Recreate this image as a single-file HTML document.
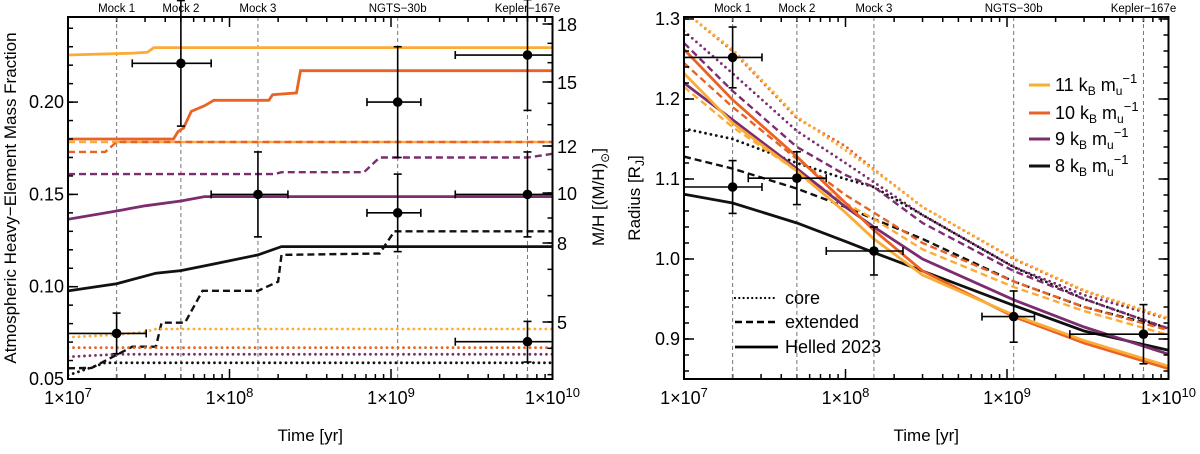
<!DOCTYPE html>
<html><head><meta charset="utf-8"><style>
html,body{margin:0;padding:0;background:#fff;}
svg{display:block;font-family:"Liberation Sans Narrow","Liberation Sans",sans-serif;}
</style></head><body>
<svg id="fig" width="1200" height="454" viewBox="0 0 1200 454" xmlns="http://www.w3.org/2000/svg">
<defs>
<clipPath id="clipL"><rect x="68" y="17" width="484.5" height="362"/></clipPath>
<clipPath id="clipR"><rect x="684" y="17" width="484.5" height="362"/></clipPath>
</defs>
</svg>
<script>
// ---------- data ----------
const markers = [2e7, 5e7, 1.5e8, 1.1e9, 7e9];
const markerNames = ["Mock 1", "Mock 2", "Mock 3", "NGTS\u221230b", "Kepler\u2212167e"];
const xTickExps = [7, 8, 9, 10];
const leftYTicks = [0.05, 0.10, 0.15, 0.20];
const leftYTickLabels = ["0.05", "0.10", "0.15", "0.20"];
const mhTicks = [5, 8, 10, 12, 15, 18];
const mhTickY = [322, 243, 193, 146, 82, 24];
const rightYTicks = [0.9, 1.0, 1.1, 1.2, 1.3];
const rightYTickLabels = ["0.9", "1.0", "1.1", "1.2", "1.3"];

// left panel series (time, value)
const Ly11SolidT = [1e7, 2.5e7, 3.1e7, 3.4e7, 1e10];
const Ly11SolidV = [0.2255, 0.2265, 0.227, 0.2295, 0.2295];
const Ly11DashT = [1e7, 1e10];
const Ly11DashV = [0.1784, 0.1784];
const Ly11DotT = [1e7, 2e7, 3e7, 3.5e7, 1e10];
const Ly11DotV = [0.0726, 0.074, 0.0755, 0.0771, 0.0771];
const Lr10SolidT = [1e7, 4.5e7, 4.8e7, 5.2e7, 5.8e7, 7e7, 8e7, 1.75e8, 1.85e8, 2.6e8, 2.75e8, 1e10];
const Lr10SolidV = [0.180, 0.180, 0.184, 0.186, 0.195, 0.198, 0.201, 0.201, 0.204, 0.205, 0.217, 0.217];
const Lr10DashT = [1e7, 1.7e7, 2e7, 1e10];
const Lr10DashV = [0.173, 0.173, 0.1784, 0.1784];
const Lr10DotT = [1e7, 1e10];
const Lr10DotV = [0.067, 0.067];
const Lp9SolidT = [1e7, 2e7, 3e7, 5e7, 7e7, 1e10];
const Lp9SolidV = [0.1365, 0.141, 0.1438, 0.1464, 0.1488, 0.1488];
const Lp9DashT = [1e7, 1.9e8, 2.1e8, 6.8e8, 8.5e8, 7e9, 1e10];
const Lp9DashV = [0.161, 0.161, 0.162, 0.162, 0.170, 0.170, 0.172];
const Lp9DotT = [1e7, 2e7, 1e10];
const Lp9DotV = [0.062, 0.0634, 0.0634];
const Lk8SolidT = [1e7, 2e7, 3.5e7, 5e7, 8e7, 1.5e8, 2.1e8, 1e10];
const Lk8SolidV = [0.0977, 0.1016, 0.1073, 0.1087, 0.1123, 0.1172, 0.1217, 0.1217];
const Lk8DashT = [1e7, 1.4e7, 2.5e7, 3.5e7, 3.8e7, 5.3e7, 6.8e7, 1.5e8, 2e8, 2.1e8, 8.5e8, 1.05e9, 1e10];
const Lk8DashV = [0.0558, 0.056, 0.0675, 0.0675, 0.0805, 0.0805, 0.0978, 0.0978, 0.1027, 0.1172, 0.118, 0.130, 0.130];
const Lk8DotT = [1e7, 1.7e7, 1e10];
const Lk8DotV = [0.052, 0.0588, 0.0588];

// left panel observations
const LobsT = [5e7, 2e7, 1.5e8, 1.1e9, 1.1e9, 7e9, 7e9, 7e9];
const LobsV = [0.221, 0.0747, 0.150, 0.200, 0.140, 0.2255, 0.150, 0.0702];
const LobsErr = [0.034, 0.011, 0.023, 0.030, 0.021, 0.030, 0.023, 0.011];
const LobsXlo = [2.5e7, 1e7, 7.7e7, 7.1e8, 7.1e8, 2.5e9, 2.5e9, 2.5e9];
const LobsXhi = [7.7e7, 3.05e7, 2.3e8, 1.53e9, 1.53e9, 1e10, 1e10, 1e10];

// right panel series, common time grid
const RT = [1e7, 2e7, 5e7, 1e8, 1.5e8, 3e8, 1.1e9, 3e9, 1e10];
const Ry11Dot = [1.31, 1.262, 1.178, 1.136, 1.111, 1.065, 1.001, 0.961, 0.926];
const Rr10Dot = [1.31, 1.26, 1.176, 1.141, 1.112, 1.065, 1.0, 0.96, 0.925];
const Rp9Dot = [1.285, 1.232, 1.16, 1.12, 1.096, 1.055, 0.99, 0.955, 0.925];
const Rk8Dot = [1.163, 1.15, 1.12, 1.10, 1.09, 1.055, 0.99, 0.95, 0.913];
const Rp9Dash = [1.27, 1.21, 1.14, 1.105, 1.09, 1.045, 0.985, 0.95, 0.913];
const Rr10Dash = [1.245, 1.19, 1.125, 1.08, 1.058, 1.02, 0.972, 0.94, 0.911];
const Ry11Dash = [1.215, 1.165, 1.11, 1.07, 1.05, 1.012, 0.965, 0.935, 0.905];
const Rk8Dash = [1.128, 1.113, 1.088, 1.065, 1.05, 1.025, 0.972, 0.94, 0.913];
const Rr10Solid = [1.262, 1.199, 1.128, 1.07, 1.036, 0.985, 0.928, 0.895, 0.863];
const Ry11Solid = [1.232, 1.17, 1.11, 1.058, 1.025, 0.98, 0.93, 0.898, 0.866];
const Rp9Solid = [1.22, 1.174, 1.113, 1.065, 1.04, 1.0, 0.949, 0.915, 0.881];
const Rk8Solid = [1.081, 1.07, 1.045, 1.022, 1.008, 0.985, 0.942, 0.91, 0.886];

// right panel observations
const RobsT = [2e7, 2e7, 5e7, 1.5e8, 1.1e9, 7e9];
const RobsV = [1.252, 1.090, 1.101, 1.010, 0.928, 0.906];
const RobsErr = [0.038, 0.033, 0.033, 0.030, 0.032, 0.037];
const RobsXlo = [1e7, 1e7, 2.5e7, 7.6e7, 7e8, 2.45e9];
const RobsXhi = [3.04e7, 3.04e7, 7.6e7, 2.27e8, 1.48e9, 1e10];

const legendLabels = ["11", "10", "9", "8"];
const styleLabels = ["core", "extended", "Helled 2023"];

// ---------- drawing ----------
const NS = "http://www.w3.org/2000/svg";
const svg = document.getElementById("fig");
const C = {y: "#fbac35", r: "#ea6224", p: "#7c2d70", k: "#111111"};
function mk(tag, attrs, parent) {
  const e = document.createElementNS(NS, tag);
  for (const k in attrs) e.setAttribute(k, attrs[k]);
  (parent || svg).appendChild(e);
  return e;
}
const xL = t => 68 + (Math.log10(t) - 7) * 161.5;
const xR = t => 684 + (Math.log10(t) - 7) * 161.5;
const yL = v => 379 - (v - 0.05) / 0.05 * 92.3;
const yR = v => 339 - (v - 0.9) * 800;

function styleAttrs(st, col) {
  if (st === "solid") return {stroke: col, "stroke-width": 2.8, fill: "none"};
  if (st === "dash") return {stroke: col, "stroke-width": 2.4, fill: "none", "stroke-dasharray": "7,4"};
  return {stroke: col, "stroke-width": 2.8, fill: "none", "stroke-dasharray": "0,5.5", "stroke-linecap": "round"};
}
function series(g, xf, yf, ts, vs, st, col, name) {
  const pts = ts.map((t, i) => xf(t).toFixed(1) + "," + yf(vs[i]).toFixed(1)).join(" ");
  const a = styleAttrs(st, col); a.points = pts;
  const e = mk("polyline", a, g);
  
  
}
function obs(g, xf, yf, T, V, E, XL, XH, name) {
  T.forEach((t, i) => {
    const og = mk("g", {}, g);
    
    
    const x = xf(t), y = yf(V[i]);
    mk("line", {x1: x, x2: x, y1: yf(V[i] + E[i]), y2: yf(V[i] - E[i]), stroke: "#000", "stroke-width": 1.6}, og);
    mk("line", {x1: x - 4, x2: x + 4, y1: yf(V[i] + E[i]), y2: yf(V[i] + E[i]), stroke: "#000", "stroke-width": 1.6}, og);
    mk("line", {x1: x - 4, x2: x + 4, y1: yf(V[i] - E[i]), y2: yf(V[i] - E[i]), stroke: "#000", "stroke-width": 1.6}, og);
    mk("line", {x1: xf(XL[i]), x2: xf(XH[i]), y1: y, y2: y, stroke: "#000", "stroke-width": 1.6}, og);
    mk("line", {x1: xf(XL[i]), x2: xf(XL[i]), y1: y - 4, y2: y + 4, stroke: "#000", "stroke-width": 1.6}, og);
    mk("line", {x1: xf(XH[i]), x2: xf(XH[i]), y1: y - 4, y2: y + 4, stroke: "#000", "stroke-width": 1.6}, og);
    mk("circle", {cx: x, cy: y, r: 4.8, fill: "#000"}, og);
  });
}
function text(str, attrs, parent, name) {
  const e = mk("text", attrs, parent);
  e.textContent = str;
  
  
  return e;
}
function xAxis(xf, x0, x1, g, prefix) {
  for (let d = 7; d < 10; d++) for (let m = 2; m <= 9; m++) {
    const x = xf(m * Math.pow(10, d));
    mk("line", {x1: x, x2: x, y1: 379, y2: 374, stroke: "#000", "stroke-width": 1.5}, g);
    mk("line", {x1: x, x2: x, y1: 17, y2: 22, stroke: "#000", "stroke-width": 1.5}, g);
  }
  xTickExps.forEach(e => {
    const x = xf(Math.pow(10, e));
    mk("line", {x1: x, x2: x, y1: 379, y2: 369, stroke: "#000", "stroke-width": 1.5}, g);
    mk("line", {x1: x, x2: x, y1: 17, y2: 27, stroke: "#000", "stroke-width": 1.5}, g);
    const t = mk("text", {x: x, y: 404, "font-size": 18, "text-anchor": "middle"}, g);
    
    
    const a = document.createElementNS(NS, "tspan"); a.textContent = "1\u00d710"; t.appendChild(a);
    const b = document.createElementNS(NS, "tspan"); b.setAttribute("dy", "-7"); b.setAttribute("font-size", "13"); b.textContent = String(e); t.appendChild(b);
  });
  markers.forEach((m, i) => {
    const x = xf(m);
    mk("line", {x1: x, x2: x, y1: 17, y2: 379, stroke: "#777", "stroke-width": 1, "stroke-dasharray": "4,3"}, g);
    text(markerNames[i], {x: x, y: 12, "font-size": 11.5, "text-anchor": "middle"}, g, prefix + "-marker-label");
  });
  text("Time [yr]", {x: (x0 + x1) / 2, y: 441, "font-size": 17, "text-anchor": "middle"}, g, prefix + "-x-axis-title");
}

// ===== left panel =====
const gL = mk("g", {});  
xAxis(xL, 68, 552.5, gL, "left");
const gLs = mk("g", {"clip-path": "url(#clipL)"}, gL);
 
series(gLs, xL, yL, Ly11DashT, Ly11DashV, "dash", C.y, "line-11-extended");
series(gLs, xL, yL, Lr10DashT, Lr10DashV, "dash", C.r, "line-10-extended");
series(gLs, xL, yL, Ly11SolidT, Ly11SolidV, "solid", C.y, "line-11-helled");
series(gLs, xL, yL, Lr10SolidT, Lr10SolidV, "solid", C.r, "line-10-helled");
series(gLs, xL, yL, Lp9DashT, Lp9DashV, "dash", C.p, "line-9-extended");
series(gLs, xL, yL, Lp9SolidT, Lp9SolidV, "solid", C.p, "line-9-helled");
series(gLs, xL, yL, Lk8SolidT, Lk8SolidV, "solid", C.k, "line-8-helled");
series(gLs, xL, yL, Lk8DashT, Lk8DashV, "dash", C.k, "line-8-extended");
series(gLs, xL, yL, Ly11DotT, Ly11DotV, "dot", C.y, "line-11-core");
series(gLs, xL, yL, Lr10DotT, Lr10DotV, "dot", C.r, "line-10-core");
series(gLs, xL, yL, Lp9DotT, Lp9DotV, "dot", C.p, "line-9-core");
series(gLs, xL, yL, Lk8DotT, Lk8DotV, "dot", C.k, "line-8-core");
obs(gL, xL, yL, LobsT, LobsV, LobsErr, LobsXlo, LobsXhi, "left-observation");
for (let v = 0.05; v < 0.246; v += 0.01) {
  const y = yL(v);
  mk("line", {x1: 68, x2: 73, y1: y, y2: y, stroke: "#000", "stroke-width": 1.5}, gL);
}
leftYTicks.forEach((v, i) => {
  const y = yL(v);
  mk("line", {x1: 68, x2: 78, y1: y, y2: y, stroke: "#000", "stroke-width": 1.5}, gL);
  text(leftYTickLabels[i], {x: 64, y: y + 6, "font-size": 18, "text-anchor": "end"}, gL, "left-y-tick-label");
});
// M/H right axis
function mhY(m) {
  for (let i = 0; i < mhTicks.length - 1; i++) {
    if (m >= mhTicks[i] && m <= mhTicks[i + 1]) {
      const f = (m - mhTicks[i]) / (mhTicks[i + 1] - mhTicks[i]);
      return mhTickY[i] + f * (mhTickY[i + 1] - mhTickY[i]);
    }
  }
  return mhTickY[0] + (m - 5) * (mhTickY[1] - mhTickY[0]) / 3;
}
for (let m = 3; m <= 18; m++) {
  const y = mhY(m); if (y > 379) continue;
  mk("line", {x1: 552.5, x2: 547.5, y1: y, y2: y, stroke: "#000", "stroke-width": 1.5}, gL);
}
mhTicks.forEach((m, i) => {
  const y = mhTickY[i];
  mk("line", {x1: 552.5, x2: 542.5, y1: y, y2: y, stroke: "#000", "stroke-width": 1.5}, gL);
  text(String(m), {x: 557, y: y + 7, "font-size": 18}, gL, "mh-tick-label");
});
mk("rect", {x: 68, y: 17, width: 484.5, height: 362, fill: "none", stroke: "#000", "stroke-width": 2}, gL);
text("Atmospheric Heavy\u2212Element Mass Fraction", {x: 0, y: 0, "font-size": 17, "text-anchor": "middle", transform: "translate(16,198) rotate(-90)"}, gL, "left-y-axis-title");
const mh = mk("text", {x: 0, y: 0, "font-size": 17, "text-anchor": "middle", transform: "translate(604,197) rotate(-90)"}, gL);
 
mh.innerHTML = '<tspan>M/H [(M/H)</tspan><tspan dy="5" font-size="12">\u2299</tspan><tspan dy="-5">]</tspan>';

// ===== right panel =====
const gR = mk("g", {});  
xAxis(xR, 684, 1168.5, gR, "right");
const gRs = mk("g", {"clip-path": "url(#clipR)"}, gR);
 
series(gRs, xR, yR, RT, Rk8Dot, "dot", C.k, "radius-8-core");
series(gRs, xR, yR, RT, Rp9Dot, "dot", C.p, "radius-9-core");
series(gRs, xR, yR, RT, Rr10Dot, "dot", C.r, "radius-10-core");
series(gRs, xR, yR, RT, Ry11Dot, "dot", C.y, "radius-11-core");
series(gRs, xR, yR, RT, Rk8Dash, "dash", C.k, "radius-8-extended");
series(gRs, xR, yR, RT, Rp9Dash, "dash", C.p, "radius-9-extended");
series(gRs, xR, yR, RT, Rr10Dash, "dash", C.r, "radius-10-extended");
series(gRs, xR, yR, RT, Ry11Dash, "dash", C.y, "radius-11-extended");
series(gRs, xR, yR, RT, Rk8Solid, "solid", C.k, "radius-8-helled");
series(gRs, xR, yR, RT, Rp9Solid, "solid", C.p, "radius-9-helled");
series(gRs, xR, yR, RT, Rr10Solid, "solid", C.r, "radius-10-helled");
series(gRs, xR, yR, RT, Ry11Solid, "solid", C.y, "radius-11-helled");
obs(gR, xR, yR, RobsT, RobsV, RobsErr, RobsXlo, RobsXhi, "right-observation");
for (let v = 0.86; v < 1.305; v += 0.02) {
  const y = yR(v);
  mk("line", {x1: 684, x2: 689, y1: y, y2: y, stroke: "#000", "stroke-width": 1.5}, gR);
  mk("line", {x1: 1168.5, x2: 1163.5, y1: y, y2: y, stroke: "#000", "stroke-width": 1.5}, gR);
}
rightYTicks.forEach((v, i) => {
  const y = yR(v);
  mk("line", {x1: 684, x2: 694, y1: y, y2: y, stroke: "#000", "stroke-width": 1.5}, gR);
  mk("line", {x1: 1168.5, x2: 1158.5, y1: y, y2: y, stroke: "#000", "stroke-width": 1.5}, gR);
  text(rightYTickLabels[i], {x: 680, y: y + 6, "font-size": 18, "text-anchor": "end"}, gR, "right-y-tick-label");
});
mk("rect", {x: 684, y: 17, width: 484.5, height: 362, fill: "none", stroke: "#000", "stroke-width": 2}, gR);
const ry = mk("text", {x: 0, y: 0, "font-size": 17, "text-anchor": "middle", transform: "translate(640,198) rotate(-90)"}, gR);
 
ry.innerHTML = '<tspan>Radius [R</tspan><tspan dy="4" font-size="12">J</tspan><tspan dy="-4">]</tspan>';

// legends
const legCols = [C.y, C.r, C.p, C.k];
const legY = [85, 113, 139, 166];
const gLeg = mk("g", {}, gR);  
legendLabels.forEach((lab, i) => {
  const ge = mk("g", {}, gLeg);
  
  
  mk("line", {x1: 1029, x2: 1050, y1: legY[i], y2: legY[i], stroke: legCols[i], "stroke-width": 3}, ge);
  const t = mk("text", {x: 1055, y: legY[i] + 6, "font-size": 18}, ge);
  t.innerHTML = lab + ' k<tspan dy="4" font-size="12">B</tspan><tspan dy="-4"> m</tspan><tspan dy="4" font-size="12">u</tspan><tspan dy="-12" font-size="13">\u22121</tspan>';
});
const styY = [298, 322, 347];
const styS = ["dot", "dash", "solid"];
const gSty = mk("g", {}, gR);  
styleLabels.forEach((lab, i) => {
  const ge = mk("g", {}, gSty);
  
  
  const a = styleAttrs(styS[i], "#000");
  a.x1 = 735; a.x2 = 778; a.y1 = styY[i]; a.y2 = styY[i];
  if (styS[i] === "dot") { a["stroke-width"] = 2.2; a["stroke-dasharray"] = "0,4.3"; }
  mk("line", a, ge);
  text(lab, {x: 785, y: styY[i] + 6, "font-size": 18}, ge, "style-legend-label");
});
</script>
</body></html>
